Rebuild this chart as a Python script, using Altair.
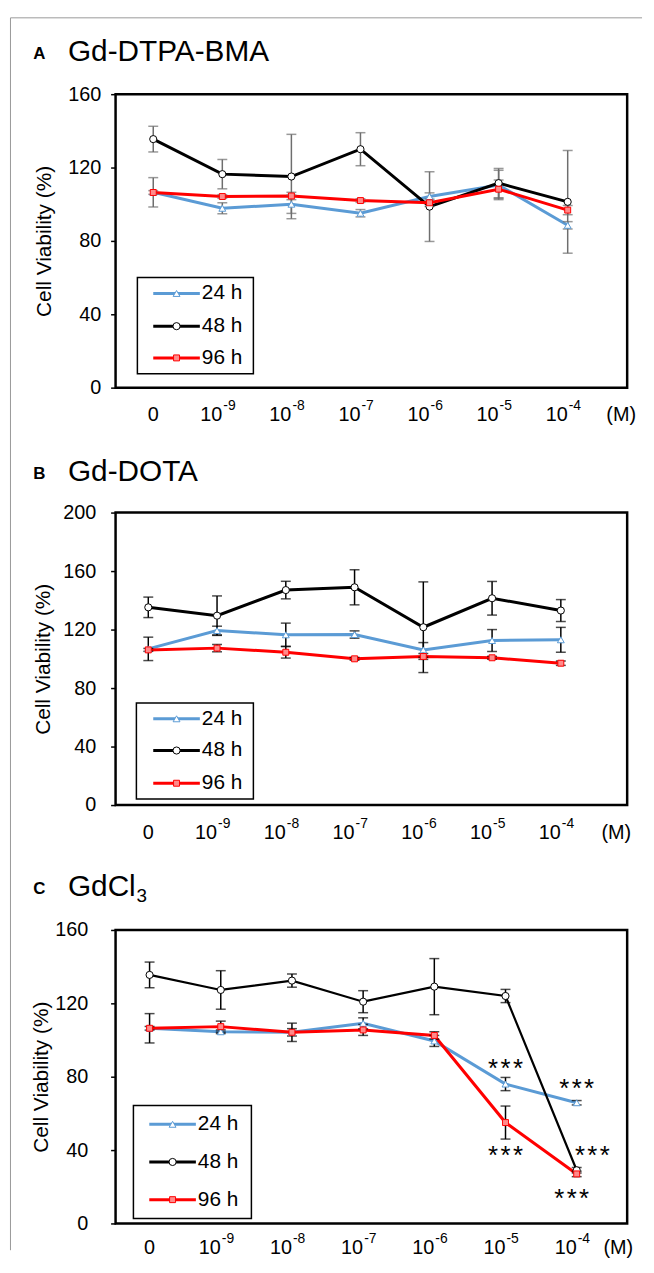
import altair as alt
import pandas as pd

FONT = "Liberation Sans"

# ---------------- data ----------------
series = ["24 h", "48 h", "96 h"]
conc_idx = [0, 1, 2, 3, 4, 5, 6]
conc_base = ["0", "10", "10", "10", "10", "10", "10"]
conc_exp = ["", "-9", "-8", "-7", "-6", "-5", "-4"]
y_ticks_160 = [0, 40, 80, 120, 160]
y_ticks_200 = [0, 40, 80, 120, 160, 200]

# Panel A  Gd-DTPA-BMA
a_24 = [106.5, 97.8, 100.0, 95.1, 104.2, 110.5, 88.5]
a_48 = [135.5, 116.4, 115.1, 130.0, 98.7, 111.5, 101.3]
a_96 = [106.4, 104.2, 104.5, 102.0, 100.8, 108.2, 96.8]
a_24_err = [8, 3, 5, 2, 2, 8, 2]
a_48_err = [7, 8, 23, 9, 19, 8, 28]
a_96_err = [1, 1, 2, 1, 2, 5, 2.5]

# Panel B  Gd-DOTA
b_24 = [106.8, 119.3, 116.4, 116.6, 106.1, 112.5, 113.0]
b_48 = [135.2, 129.5, 147.0, 148.9, 121.6, 141.4, 133.0]
b_96 = [106.1, 107.3, 104.5, 100.0, 101.6, 100.7, 97.0]
b_24_err = [8, 3, 8, 2.5, 5, 7.5, 8.5]
b_48_err = [7, 13.5, 6, 12, 31, 11.5, 7.5]
b_96_err = [1, 2.5, 4, 1, 2, 1, 1.5]

# Panel C  GdCl3
c_24 = [106.4, 104.5, 104.2, 109.1, 99.5, 76.0, 65.8]
c_48 = [135.5, 127.3, 132.4, 120.9, 129.1, 124.0, 29.0]
c_96 = [106.4, 107.3, 104.2, 105.5, 102.5, 55.0, 27.0]
c_24_err = [8, 1, 5, 3, 3, 3.6, 1.2]
c_48_err = [7, 10.5, 3.6, 6, 15.3, 3.6, 1.5]
c_96_err = [1, 3, 2, 3, 2, 9, 1.5]

# significance labels (panel C, "***"), anchored in data units
c_star_x = [5, 5, 6, 6.22, 5.93]
c_star_y = [88, 40.5, 77, 40.5, 17.3]

# ---------------- styles ----------------
COLORS = ["#5b9bd5", "#000000", "#ff0000"]
SHAPES = ["triangle-up", "circle", "square"]
FILLS = ["#ffffff", "#ffffff", "#ff8a8a"]
SIZES = [48, 52, 36]

one = pd.DataFrame({"k": [0]})


def txt(text, x, y, size, weight="normal", align="left", baseline="alphabetic"):
    return alt.Chart(one).mark_text(
        text=text, align=align, baseline=baseline, font=FONT,
        fontSize=size, fontWeight=weight, color="black"
    ).encode(x=alt.value(x), y=alt.value(y))


def panel(letter, name, sub, vals, errs, ymax, yticks, h, dom, errcolor,
          label_pad, title_x, lab_y, m_x, leg, widths, title_y, stars=None,
          extra=None):
    rows = []
    for s, v, e in zip(series, vals, errs):
        for i, vv, ee in zip(conc_idx, v, e):
            rows.append({"series": s, "idx": i, "v": vv, "lo": vv - ee, "hi": vv + ee})
    df = pd.DataFrame(rows)
    base = alt.Chart(df)

    xs = alt.X("idx:Q", scale=alt.Scale(domain=dom, nice=False, zero=False), axis=None)
    yscale = alt.Scale(domain=[0, ymax], nice=False, zero=True)
    yaxis = alt.Axis(
        values=yticks, title="Cell Viability (%)", titleFont=FONT, titleFontSize=21,
        titleFontWeight="normal", titleColor="black", titleAngle=270,
        titleAlign="center", titleBaseline="middle", titleX=title_x, titleY=h / 2,
        labelFont=FONT, labelFontSize=20, labelColor="black", labelPadding=label_pad,
        labelFlush=False, labelOverlap=False, tickSize=5, tickColor="black",
        tickWidth=1.5, domain=False, grid=False,
    )

    def Y(f):
        return alt.Y(f, scale=yscale, axis=yaxis)

    layers = []
    if extra is not None:
        layers += extra
    # lines
    for s, col, w in zip(series, COLORS, widths):
        layers.append(
            base.transform_filter(alt.datum.series == s)
            .mark_line(color=col, strokeWidth=w)
            .encode(x=xs, y=Y("v:Q"))
        )
    # error bars
    layers.append(base.mark_rule(color=errcolor, strokeWidth=1.5).encode(
        x=xs, y=Y("lo:Q"), y2="hi:Q"))
    layers.append(base.mark_tick(color=errcolor, orient="horizontal", size=10,
                                 thickness=1.5).encode(x=xs, y=Y("lo:Q")))
    layers.append(base.mark_tick(color=errcolor, orient="horizontal", size=10,
                                 thickness=1.5).encode(x=xs, y=Y("hi:Q")))
    # markers
    for s, col, shp, fil, sz in zip(series, COLORS, SHAPES, FILLS, SIZES):
        layers.append(
            base.transform_filter(alt.datum.series == s)
            .mark_point(shape=shp, size=sz, filled=True, fill=fil, stroke=col,
                        strokeWidth=1, opacity=1)
            .encode(x=xs, y=Y("v:Q"))
        )
    # significance asterisks
    if stars is not None:
        sdf = pd.DataFrame({"idx": stars[0], "v": stars[1]})
        for dx in (-12.5, 0, 12.5):
            layers.append(
                alt.Chart(sdf).mark_text(text="*", font=FONT, fontSize=26, color="black",
                                         align="center", baseline="alphabetic",
                                         dx=dx, dy=15)
                .encode(x=xs, y=Y("v:Q"))
            )
    # x tick labels
    xl = pd.DataFrame({"idx": conc_idx, "base": conc_base, "exp": conc_exp})
    layers.append(
        alt.Chart(xl).transform_filter("datum.exp == ''")
        .mark_text(font=FONT, fontSize=20, color="black", align="center", baseline="alphabetic")
        .encode(x=xs, y=alt.value(lab_y), text="base:N")
    )
    layers.append(
        alt.Chart(xl).transform_filter("datum.exp != ''")
        .mark_text(font=FONT, fontSize=20, color="black", align="right", baseline="alphabetic", dx=0)
        .encode(x=xs, y=alt.value(lab_y), text="base:N")
    )
    layers.append(
        alt.Chart(xl).transform_filter("datum.exp != ''")
        .mark_text(font=FONT, fontSize=14, color="black", align="left", baseline="alphabetic", dx=1)
        .encode(x=xs, y=alt.value(lab_y - 11), text="exp:N")
    )
    layers.append(txt("(M)", m_x, lab_y, 20, align="center"))

    # legend box
    bx1, bx2, by1, by2, ry, lx1, lx2, tx = leg
    layers.append(
        alt.Chart(one).mark_rect(fill="white", stroke="black", strokeWidth=1.5)
        .encode(x=alt.value(bx1), x2=alt.value(bx2), y=alt.value(by1), y2=alt.value(by2))
    )
    for s, col, shp, fil, sz, yy in zip(series, COLORS, SHAPES, FILLS, SIZES, ry):
        layers.append(
            alt.Chart(one).mark_rule(color=col, strokeWidth=3)
            .encode(x=alt.value(lx1), x2=alt.value(lx2), y=alt.value(yy), y2=alt.value(yy))
        )
        layers.append(
            alt.Chart(one).mark_point(shape=shp, size=sz, filled=True, fill=fil,
                                      stroke=col, strokeWidth=1, opacity=1)
            .encode(x=alt.value((lx1 + lx2) / 2), y=alt.value(yy))
        )
        layers.append(txt(s, tx, yy, 21, baseline="middle"))

    # panel title
    layers.append(txt(letter, -83, title_y - 2, 17, weight="bold"))
    layers.append(txt(name, -48, title_y, 30))
    if sub:
        layers.append(txt(sub, 21, title_y + 6, 19))

    return alt.layer(*layers).properties(width=516, height=h)


frame = [
    alt.Chart(one).mark_rule(color="#999999", strokeWidth=1)
    .encode(x=alt.value(-106), x2=alt.value(531), y=alt.value(-77), y2=alt.value(-77)),
    alt.Chart(one).mark_rule(color="#999999", strokeWidth=1)
    .encode(x=alt.value(-106), x2=alt.value(-106), y=alt.value(-77), y2=alt.value(1166)),
]

pA = panel("A", "Gd-DTPA-BMA", None, [a_24, a_48, a_96], [a_24_err, a_48_err, a_96_err],
           160, y_ticks_160, 296, [-0.5454, 6.861], "#6e6e6e", 10, -72, 330, 510,
           (22, 139, 185, 282, [201, 234, 266], 38, 85, 87), [3, 3, 3], -33,
           extra=frame)
pB = panel("B", "Gd-DOTA", None, [b_24, b_48, b_96], [b_24_err, b_48_err, b_96_err],
           200, y_ticks_200, 295, [-0.4758, 6.9647], "#000000", 15, -73, 329, 505,
           (21, 139, 192, 289, [208, 240, 273], 38, 85, 87), [3, 3, 3], -32)
pC = panel("C", "GdCl", "3", [c_24, c_48, c_96], [c_24_err, c_48_err, c_96_err],
           160, y_ticks_160, 296, [-0.4777, 6.709], "#000000", 23, -75, 327, 507,
           (18, 137, 177, 291, [196, 234, 272], 34, 81, 83), [3, 2.2, 3], -34,
           stars=(c_star_x, c_star_y))

chart = (
    alt.vconcat(pA, pB, pC, spacing=126, bounds="flush")
    .properties(padding={"left": 0.5, "top": 2.5, "right": 2, "bottom": 0})
    .configure_view(stroke="black", strokeWidth=2.5)
)

chart.save("out.html", embed_options={"renderer": "svg", "actions": False})
